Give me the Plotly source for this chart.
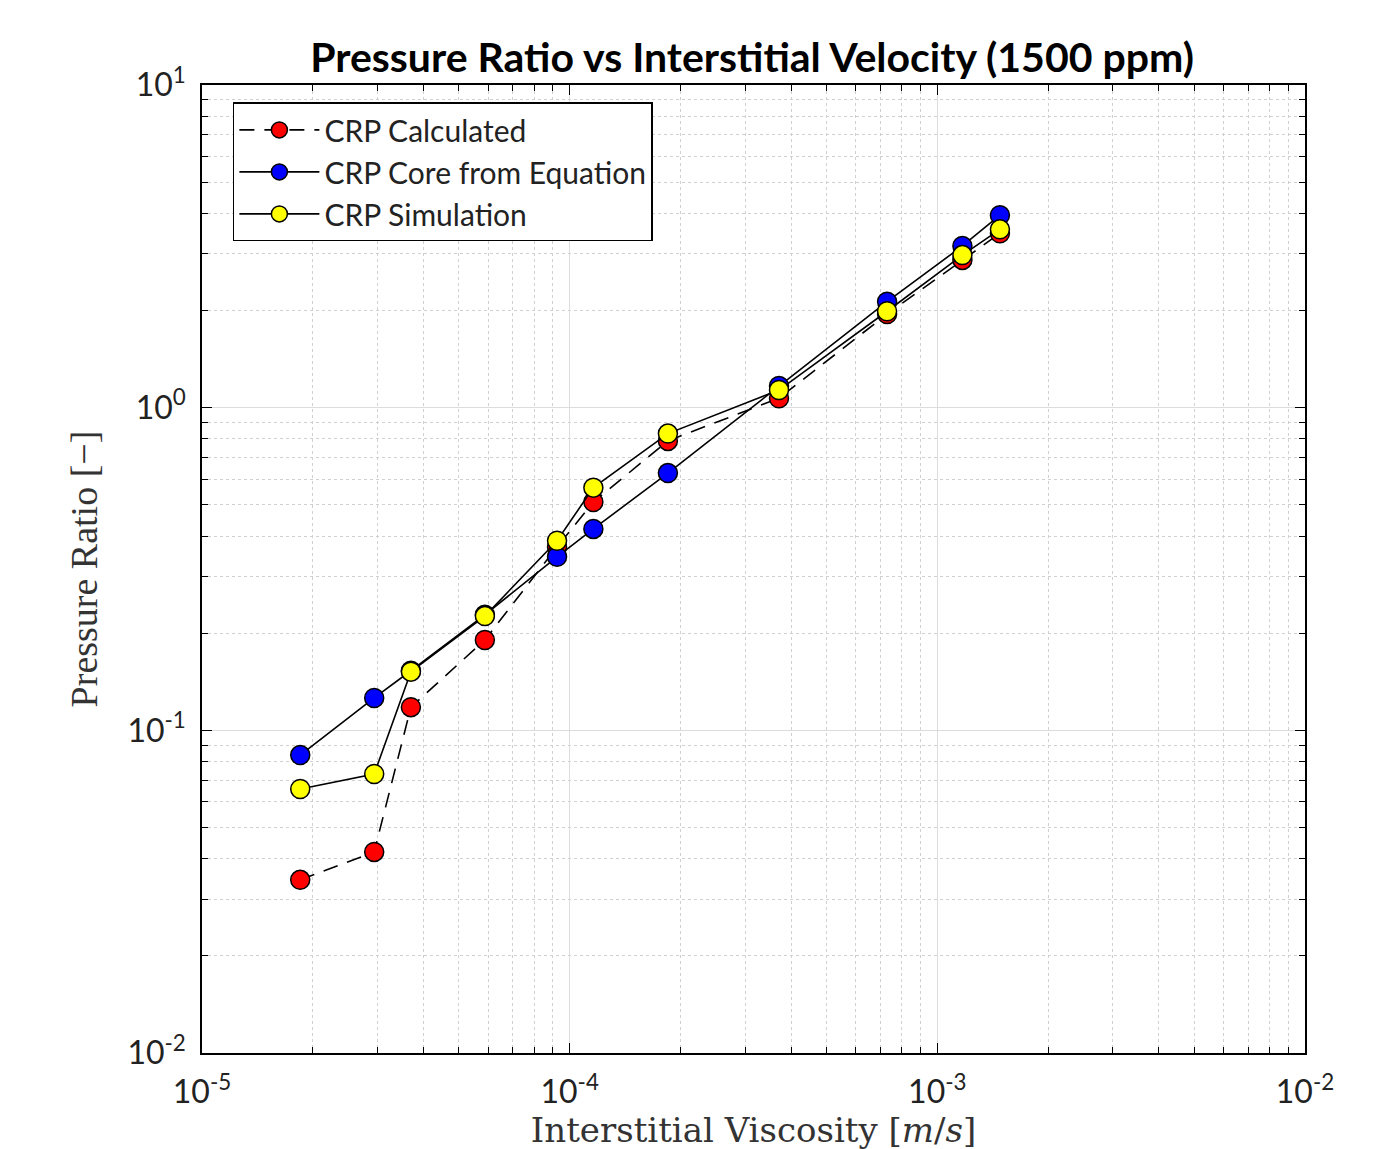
import plotly.graph_objects as go

# interstitial velocity [m/s]
velocity = [1.85e-5, 2.94e-5, 3.70e-5, 5.88e-5, 9.24e-5, 1.16e-4,
            1.85e-4, 3.71e-4, 7.30e-4, 1.17e-3, 1.48e-3]

crp_calculated = [0.0344, 0.0420, 0.118, 0.1906, 0.37, 0.51,
                  0.789, 1.07, 1.95, 2.87, 3.47]
crp_equation = [0.0838, 0.126, 0.153, 0.228, 0.345, 0.421,
                0.627, 1.167, 2.13, 3.17, 3.95]
crp_simulation = [0.0658, 0.0732, 0.152, 0.226, 0.387, 0.565,
                  0.831, 1.134, 1.99, 2.97, 3.57]

x_decades = [-5, -4, -3, -2]
y_decades = [-2, -1, 0, 1]

series = [
    ("CRP Calculated", crp_calculated, "red", "15px,10px"),
    ("CRP Core from Equation", crp_equation, "blue", "solid"),
    ("CRP Simulation", crp_simulation, "yellow", "solid"),
]

fig = go.Figure()
for name, values, color, dash in series:
    fig.add_trace(go.Scatter(
        x=velocity,
        y=values,
        mode="lines+markers",
        name=name,
        line=dict(color="black", width=1.6, dash=dash),
        marker=dict(size=19, color=color, line=dict(color="black", width=1.5)),
    ))


def minor_vals(decades):
    return [k * 10.0 ** d for d in decades[:-1] for k in range(2, 10)]


def sup_labels(decades):
    return [f"10<sup>{d}</sup>" for d in decades]


axis_common = dict(
    type="log",
    showline=True,
    linecolor="black",
    linewidth=1.5,
    mirror="ticks",
    ticks="inside",
    ticklen=10,
    tickcolor="black",
    showgrid=True,
    gridcolor="#dcdcdc",
    gridwidth=1,
    zeroline=False,
    tickfont=dict(family="Lato", size=32, color="#222"),
)

fig.update_xaxes(
    **axis_common,
    range=[-5, -2],
    tickmode="array",
    tickvals=[10.0 ** d for d in x_decades],
    ticktext=sup_labels(x_decades),
    ticklabelstandoff=10,
    minor=dict(tickmode="array", tickvals=minor_vals(x_decades), ticks="inside",
               ticklen=6, tickcolor="black", showgrid=True,
               gridcolor="#d0d0d0", griddash="dot", gridwidth=1),
    title=dict(text="Interstitial Viscosity [<i>m</i>/<i>s</i>]",
               font=dict(family="DejaVu Serif", size=34, color="#333"),
               standoff=0),
)
fig.update_yaxes(
    **axis_common,
    range=[-2, 1],
    tickmode="array",
    tickvals=[10.0 ** d for d in y_decades],
    ticktext=sup_labels(y_decades),
    ticklabelstandoff=8,
    minor=dict(tickmode="array", tickvals=minor_vals(y_decades), ticks="inside",
               ticklen=6, tickcolor="black", showgrid=True,
               gridcolor="#d0d0d0", griddash="dot", gridwidth=1),
    title=dict(text="Pressure Ratio [−]",
               font=dict(family="Liberation Serif", size=38, color="#333"),
               standoff=18),
)

fig.update_layout(
    width=1392,
    height=1149,
    paper_bgcolor="white",
    plot_bgcolor="white",
    margin=dict(l=194, r=95, t=77, b=104),
    title=dict(text="<b>Pressure Ratio vs Interstitial Velocity (1500 ppm)</b>",
               font=dict(family="Lato", size=41, color="black"),
               x=0.5345, xanchor="center", y=0.9565, yanchor="middle"),
    legend=dict(x=0.028, y=0.982, xanchor="left", yanchor="top",
                bordercolor="black", borderwidth=1.5, bgcolor="white",
                font=dict(family="Lato", size=30, color="#222"),
                itemwidth=80, tracegroupgap=0),
    showlegend=True,
)

fig.write_html("out.html")
